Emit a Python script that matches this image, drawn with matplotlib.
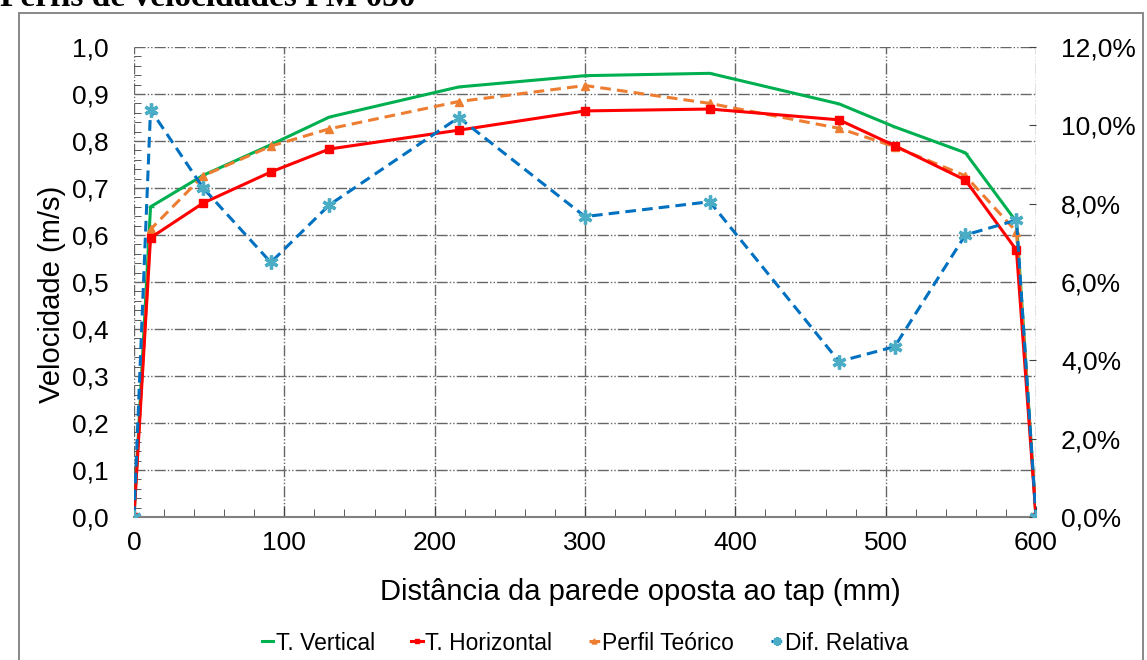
import matplotlib.pyplot as plt
from matplotlib.patches import Rectangle
from matplotlib.ticker import MultipleLocator, FuncFormatter

plt.rcParams['font.family'] = ['Liberation Sans', 'DejaVu Sans']

# distância da parede oposta ao tap (mm)
dist = [0, 11, 46, 91, 130, 216, 300, 383, 469, 506, 553, 587, 600]
# velocidades (m/s)
t_vertical = [0, 0.66, 0.727, 0.792, 0.851, 0.915, 0.939, 0.944, 0.879, 0.83, 0.775, 0.628, 0]
t_horizontal = [0, 0.594, 0.668, 0.734, 0.783, 0.823, 0.864, 0.868, 0.845, 0.79, 0.717, 0.568, 0]
perfil_teorico = [0, 0.612, 0.726, 0.789, 0.826, 0.884, 0.918, 0.880, 0.827, 0.788, 0.726, 0.607, 0]
# diferença relativa (%)
dif_relativa = [0, 10.4, 8.4, 6.5, 7.97, 10.2, 7.67, 8.05, 3.97, 4.35, 7.2, 7.58, 0]

fig = plt.figure(figsize=(11.47, 6.6), dpi=100)

# moldura do gráfico e título cortado
fig.patches.append(Rectangle((19 / 1147, -0.05), (1143 - 19) / 1147, 1.05 - 13 / 660,
                             transform=fig.transFigure, fill=False,
                             edgecolor='#7f7f7f', linewidth=1.3))
fig.text(0.0, 1 - 6 / 660, 'Perfis de velocidades PM 050', fontsize=24,
         fontweight='bold', family='Liberation Serif', va='baseline', ha='left')

ax = fig.add_axes([134 / 1147, 1 - 517 / 660, (1036 - 134) / 1147, (517 - 47) / 660])
ax2 = ax.twinx()

ax.plot(dist, t_vertical, color='#00B050', lw=2.2, marker='_', ms=4, label='T. Vertical', zorder=3)
ax.plot(dist, t_horizontal, color='#FF0000', lw=2.2, marker='s', ms=6, label='T. Horizontal', zorder=4)
ax.plot(dist, perfil_teorico, color='#ED7D31', lw=2.2, ls=(0, (3.5, 2)), marker='^', ms=6,
        label='Perfil Teórico', zorder=3)
ax2.plot(dist, dif_relativa, color='#0070C0', lw=2.2, ls=(0, (3.5, 2)), marker=(6, 2, 0), ms=10,
         mec='#4BACC6', mew=2.4, label='Dif. Relativa', zorder=3)

ax.set_xlim(0, 600)
ax.set_ylim(0, 1.0)
ax2.set_ylim(0, 12)

grid_kw = dict(color='#666666', lw=1.0, ls=(0, (8, 1.5, 1, 1.5, 1, 1.5)))
ax.xaxis.set_major_locator(MultipleLocator(100))
ax.xaxis.set_minor_locator(MultipleLocator(20))
ax.yaxis.set_major_locator(MultipleLocator(0.1))
ax.yaxis.set_minor_locator(MultipleLocator(0.02))
ax2.yaxis.set_major_locator(MultipleLocator(2))
ax.grid(True, which='major', **grid_kw)
ax.set_axisbelow(True)

ax.yaxis.set_major_formatter(FuncFormatter(lambda v, p: f'{v:.1f}'.replace('.', ',')))
ax2.yaxis.set_major_formatter(FuncFormatter(lambda v, p: f'{v:.1f}%'.replace('.', ',')))

for a in (ax, ax2):
    for s in ('top', 'right', 'left'):
        a.spines[s].set_visible(False)
ax2.spines['bottom'].set_visible(False)
ax.spines['bottom'].set_color('#808080')
ax.spines['bottom'].set_linewidth(1.5)

ax.tick_params(axis='both', which='major', labelsize=19, length=0)
ax.tick_params(axis='y', which='major', pad=18)
ax.tick_params(axis='x', which='major', direction='in', length=8, color='#404040', pad=10)
ax.tick_params(axis='x', which='minor', direction='in', length=6, color='#404040')
ax.tick_params(axis='y', which='minor', direction='in', length=5, color='#404040')
ax2.tick_params(axis='y', which='major', labelsize=19, direction='in', length=5,
                color='#404040', pad=18)

# rótulos dos eixos posicionados como no Excel
fig.text(52 / 1147, 1 - 294 / 660, 'Velocidade (m/s)', fontsize=21, rotation=90,
         ha='center', va='center')
fig.text(640 / 1147, 1 - 592 / 660, 'Distância da parede oposta ao tap (mm)', fontsize=21,
         ha='center', va='center')

h1, l1 = ax.get_legend_handles_labels()
h2, l2 = ax2.get_legend_handles_labels()
fig.legend(h1 + h2, l1 + l2, loc='center', bbox_to_anchor=(0.51, 1 - 643 / 660),
           ncol=4, frameon=False, fontsize=16.5, handlelength=0.5, handletextpad=0.1,
           columnspacing=1.6, markerscale=0.6)

fig.savefig('out.png', dpi=100)
